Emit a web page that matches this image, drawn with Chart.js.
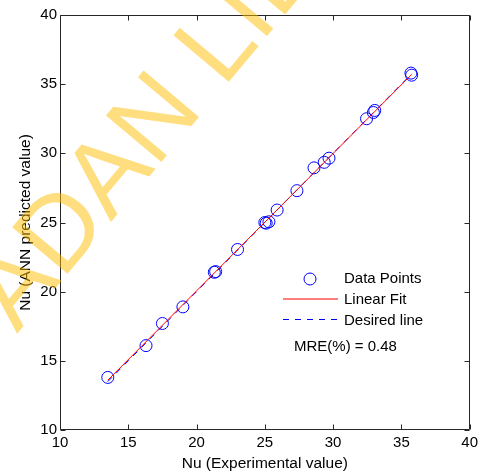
<!DOCTYPE html>
<html>
<head>
<meta charset="utf-8">
<script src="https://cdn.jsdelivr.net/npm/chart.js@4.4.1/dist/chart.umd.min.js"></script>
<style>
  html, body { margin: 0; padding: 0; background: #ffffff; }
  #wrap { width: 482px; height: 474px; position: relative; }
</style>
</head>
<body>
<div id="wrap"><canvas id="c" width="482" height="474"></canvas></div>
<script>
// ---- data ----
const expNu = [13.5, 16.3, 17.5, 19.0, 21.3, 21.4, 23.0, 25.0, 25.1, 25.3, 25.9, 27.35, 28.6, 29.35, 29.7, 32.45, 32.95, 33.05, 35.7, 35.75];
const annNu = [13.8, 16.1, 17.7, 18.9, 21.4, 21.45, 23.05, 25.0, 24.95, 25.05, 25.9, 27.3, 28.95, 29.35, 29.65, 32.5, 32.95, 33.1, 35.8, 35.65];
const fitX = [13.5, 35.75];
const fitY = [13.6, 35.7];
const desiredX = [13.5, 35.75];
const desiredY = [13.5, 35.75];
const xTicks = [10, 15, 20, 25, 30, 35, 40];
const yTicks = [10, 15, 20, 25, 30, 35, 40];
const seriesLabels = ['Data Points', 'Linear Fit', 'Desired line'];
const mreText = 'MRE(%) = 0.48';
const xTitle = 'Nu (Experimental value)';
const yTitle = 'Nu (ANN predicted value)';
const watermarkText = 'ADAN LIB';

const FONT = '"Liberation Sans", Arial, Helvetica, sans-serif';
const AXIS_COLOR = '#262626';

const toXY = (xs, ys) => xs.map((x, i) => ({ x: x, y: ys[i] }));

const boxPlugin = {
  id: 'boxTicks',
  afterDatasetsDraw(chart) {
    const { ctx, chartArea: a, scales } = chart;
    const L = Math.round(a.left) + 0.5, R = Math.round(a.right) - 0.5;
    const T = Math.round(a.top) + 0.5, B = Math.round(a.bottom) - 0.5;
    ctx.save();
    ctx.strokeStyle = AXIS_COLOR;
    ctx.lineWidth = 1;
    ctx.beginPath();
    ctx.rect(L, T, R - L, B - T);
    ctx.stroke();
    const tl = 5;
    ctx.beginPath();
    xTicks.forEach(v => {
      const px = Math.round(scales.x.getPixelForValue(v)) + 0.5;
      ctx.moveTo(px, B); ctx.lineTo(px, B - tl);
      ctx.moveTo(px, T); ctx.lineTo(px, T + tl);
    });
    yTicks.forEach(v => {
      const py = Math.round(scales.y.getPixelForValue(v)) + 0.5;
      ctx.moveTo(L, py); ctx.lineTo(L + tl, py);
      ctx.moveTo(R, py); ctx.lineTo(R - tl, py);
    });
    ctx.stroke();
    ctx.restore();
  }
};

const legendPlugin = {
  id: 'innerLegend',
  afterDatasetsDraw(chart) {
    const { ctx } = chart;
    ctx.save();
    ctx.font = '15px ' + FONT;
    ctx.fillStyle = '#000000';
    ctx.textBaseline = 'middle';
    ctx.textAlign = 'left';
    const textX = 344;
    const rows = [279, 299, 319];
    // Data points marker
    ctx.strokeStyle = '#0000ff';
    ctx.lineWidth = 1;
    ctx.beginPath();
    ctx.arc(310, rows[0], 6, 0, Math.PI * 2);
    ctx.stroke();
    // Linear fit sample
    ctx.strokeStyle = '#ff0000';
    ctx.lineWidth = 1.2;
    ctx.beginPath();
    ctx.moveTo(283, rows[1]); ctx.lineTo(338, rows[1]);
    ctx.stroke();
    // Desired line sample
    ctx.strokeStyle = '#0000ff';
    ctx.lineWidth = 1;
    ctx.setLineDash([6, 6]);
    ctx.beginPath();
    ctx.moveTo(283, rows[2] + 0.5); ctx.lineTo(338, rows[2] + 0.5);
    ctx.stroke();
    ctx.setLineDash([]);
    const textRows = [279, 300, 321];
    seriesLabels.forEach((t, i) => ctx.fillText(t, textX, textRows[i]));
    ctx.fillText(mreText, 294, 347);
    ctx.restore();
  }
};

const watermarkPlugin = {
  id: 'watermark',
  afterDraw(chart) {
    const { ctx } = chart;
    ctx.save();
    ctx.translate(17, 334);
    ctx.rotate(-50 * Math.PI / 180);
    ctx.font = '105px ' + FONT;
    ctx.fillStyle = 'rgba(255, 190, 0, 0.5)';
    ctx.textBaseline = 'alphabetic';
    ctx.textAlign = 'left';
    ctx.fillText(watermarkText, 0, 0);
    ctx.restore();
  }
};

new Chart(document.getElementById('c'), {
  type: 'scatter',
  data: {
    datasets: [
      {
        label: seriesLabels[0],
        data: toXY(expNu, annNu),
        showLine: false,
        pointStyle: 'circle',
        pointRadius: 6,
        pointHoverRadius: 6,
        pointBorderColor: '#0000ff',
        pointBackgroundColor: 'rgba(0,0,0,0)',
        pointBorderWidth: 1,
        order: 3
      },
      {
        label: seriesLabels[1],
        data: toXY(fitX, fitY),
        showLine: true,
        borderColor: '#ff0000',
        borderWidth: 1,
        pointRadius: 0,
        order: 1
      },
      {
        label: seriesLabels[2],
        data: toXY(desiredX, desiredY),
        showLine: true,
        borderColor: '#0000ff',
        borderWidth: 1,
        borderDash: [6, 6],
        pointRadius: 0,
        order: 2
      }
    ]
  },
  options: {
    responsive: false,
    animation: false,
    devicePixelRatio: 1,
    layout: { padding: { top: 15, right: 8, left: 0, bottom: 0 } },
    plugins: {
      legend: { display: false },
      tooltip: { enabled: false }
    },
    scales: {
      x: {
        type: 'linear',
        min: 10, max: 40,
        afterBuildTicks: s => { s.ticks = xTicks.map(v => ({ value: v })); },
        afterFit: s => { s.height = 44; },
        grid: { display: false, drawTicks: false },
        border: { display: false },
        ticks: { color: '#000', padding: 4, font: { family: FONT, size: 15 }, maxRotation: 0, autoSkip: false },
        title: { display: true, text: xTitle, color: '#000', font: { family: FONT, size: 15.5 }, padding: { top: 0, bottom: 1 } }
      },
      y: {
        type: 'linear',
        min: 10, max: 40,
        afterBuildTicks: s => { s.ticks = yTicks.map(v => ({ value: v })); },
        afterFit: s => { s.width = 60; },
        grid: { display: false, drawTicks: false },
        border: { display: false },
        ticks: { color: '#000', padding: 3, font: { family: FONT, size: 15 }, autoSkip: false },
        title: { display: true, text: yTitle, color: '#000', font: { family: FONT, size: 15.5 }, padding: { top: 16, bottom: 0 } }
      }
    }
  },
  plugins: [boxPlugin, legendPlugin, watermarkPlugin]
});
</script>
</body>
</html>
